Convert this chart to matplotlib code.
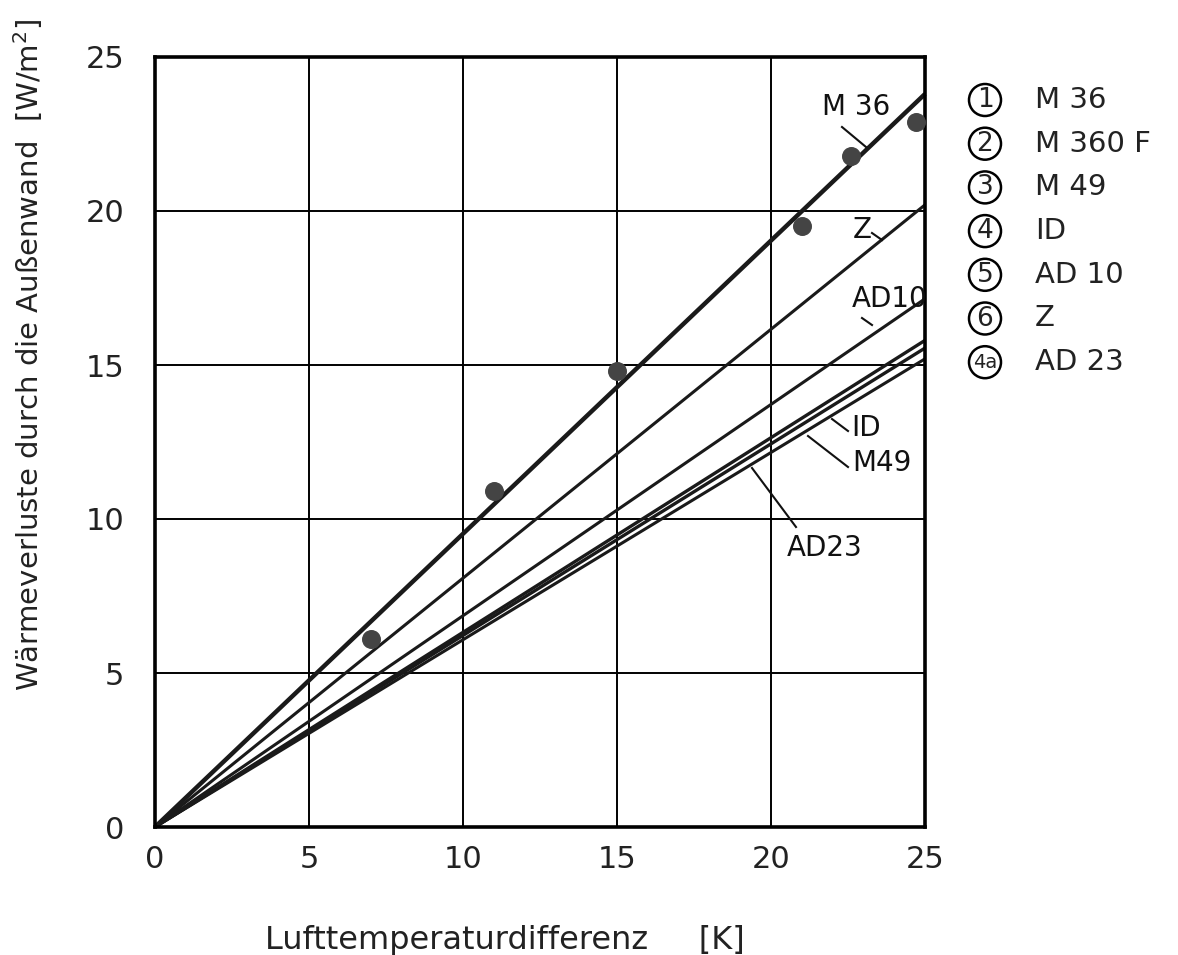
import matplotlib
matplotlib.use("Agg")
import matplotlib.pyplot as plt
from matplotlib.patches import Ellipse
import numpy as np

plt.rcParams['font.family'] = ['DejaVu Sans']

# Data
series_names = ["M 36", "Z", "AD10", "ID", "M 49", "AD 23"]
end_values = [23.8, 20.2, 17.15, 15.8, 15.55, 15.2]   # value at dT = 25 K
line_widths = [3.2, 2.2, 2.2, 2.4, 2.4, 2.2]
meas_x = [7.0, 11.0, 15.0, 21.0, 22.6, 24.7]
meas_y = [6.1, 10.9, 14.8, 19.5, 21.8, 22.9]
legend_keys = ["1", "2", "3", "4", "5", "6", "4a"]
legend_names = ["M 36", "M 360 F", "M 49", "ID", "AD 10", "Z", "AD 23"]
ticks = [0, 5, 10, 15, 20, 25]

W, H = 1178, 955
fig = plt.figure(figsize=(W/100, H/100), dpi=100)
ax = fig.add_axes([155/W, 1-827/H, (925-155)/W, (827-57)/H])
ax.set_xlim(0, 25)
ax.set_ylim(0, 25)
ax.set_xticks(ticks)
ax.set_yticks(ticks)
ax.tick_params(length=0, labelsize=22, pad=13, labelcolor='#222222')
ax.tick_params(axis='y', pad=22)
ax.grid(True, color='black', lw=1.4)
ax.set_axisbelow(True)
for s in ax.spines.values():
    s.set_linewidth(2.6)

x = np.array([0, 25.0])
for name, v, lw in zip(series_names, end_values, line_widths):
    ax.plot(x, x * v / 25.0, color='#1a1a1a', lw=lw, solid_capstyle='butt', clip_on=False)

ax.scatter(meas_x, meas_y, s=160, color='#444444', zorder=5, clip_on=False)

def px(p, q):
    return ((p - 155) / 30.8, (827 - q) / 30.8)

labels = [
    ("M 36", (856, 107), (842, 127), (866, 147)),
    ("Z", (862, 230), (872, 233), (882, 240)),
    ("AD10", (890, 299), (862, 318), (872, 325)),
    ("ID", (866, 428), (832, 419), (848, 431)),
    ("M49", (882, 463), (808, 436), (848, 467)),
    ("AD23", (825, 548), (752, 468), (796, 527)),
]
for txt, tpos, a, b in labels:
    ax.text(*px(*tpos), txt, fontsize=20, ha='center', va='center', color='#111111',
            zorder=6, clip_on=False)
    pa, pb = px(*a), px(*b)
    ax.plot([pa[0], pb[0]], [pa[1], pb[1]], color='#111111', lw=1.5, zorder=6)

ax.set_xlabel("Lufttemperaturdifferenz     [K]", fontsize=23, color='#222222')
ax.xaxis.set_label_coords((505 - 155) / 770, -(940 - 827) / 770)
ax.set_ylabel("Wärmeverluste durch die Außenwand  [W/m$^2$]", fontsize=21, color='#222222')
ax.yaxis.set_label_coords(-(155 - 28) / 770, (827 - 355) / 770)
ax.yaxis.label.set_va('center')
ax.xaxis.label.set_va('center')

# Legend
y0 = 100
r = 16
for i, (k, n) in enumerate(zip(legend_keys, legend_names)):
    yp = y0 + i * 43.7
    yy = 1 - yp / H
    fig.add_artist(Ellipse((985 / W, yy), 2 * r / W, 2 * r / H, transform=fig.transFigure,
                           fc='none', ec='black', lw=1.8))
    fig.text(985 / W, yy, k, fontsize=19 if len(k) == 1 else 14, ha='center', va='center',
             color='#222222')
    fig.text(1035 / W, yy, n, fontsize=21, ha='left', va='center', color='#222222')

fig.savefig("out.png", dpi=100)
